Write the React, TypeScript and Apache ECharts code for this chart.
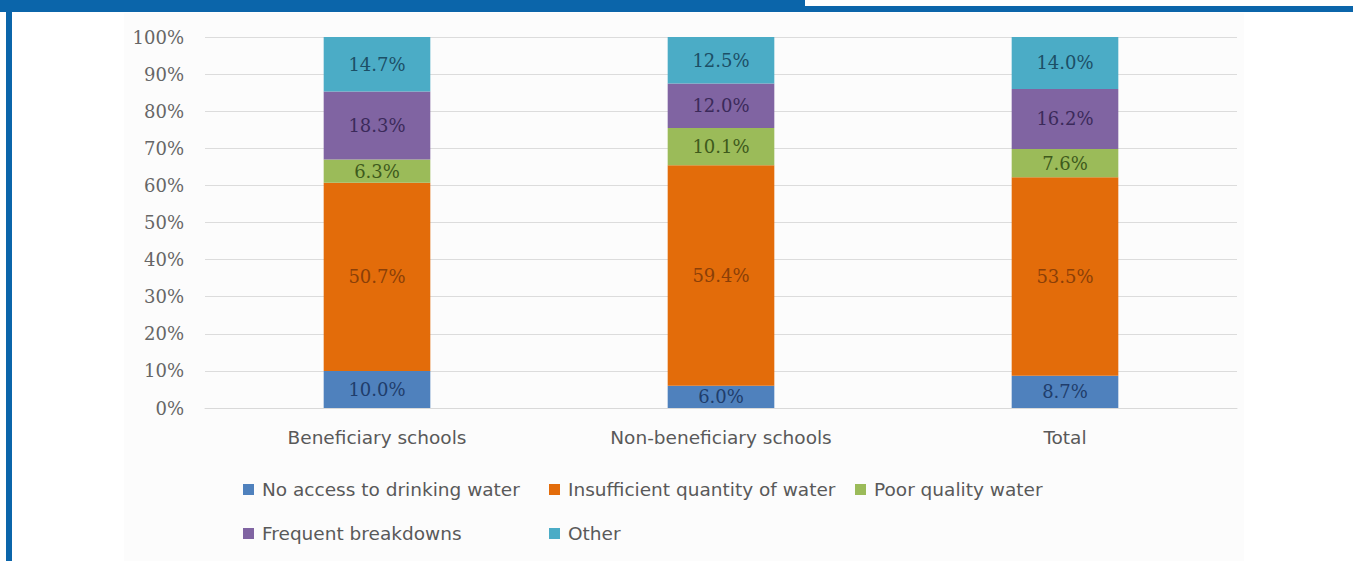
import React, { useEffect, useRef } from "react";
import * as echarts from "echarts";

const categories = ["Beneficiary schools", "Non-beneficiary schools", "Total"];
const seriesNames = [
  "No access to drinking water",
  "Insufficient quantity of water",
  "Poor quality water",
  "Frequent breakdowns",
  "Other",
];
const noAccess = [10.0, 6.0, 8.7];
const insufficient = [50.7, 59.4, 53.5];
const poorQuality = [6.3, 10.1, 7.6];
const breakdowns = [18.3, 12.0, 16.2];
const other = [14.7, 12.5, 14.0];
const yTicks = [0, 10, 20, 30, 40, 50, 60, 70, 80, 90, 100];

const seriesData = [noAccess, insufficient, poorQuality, breakdowns, other];
const colors = ["#4F81BD", "#E36C0A", "#9BBB59", "#8064A2", "#4BACC6"];
const labelColors = ["#1F3D6B", "#8A3F08", "#3E5A1C", "#3B2A5A", "#1C4F66"];
const legendPos = [
  { left: 243, top: 480 },
  { left: 549, top: 480 },
  { left: 855, top: 480 },
  { left: 243, top: 524 },
  { left: 549, top: 524 },
];

export default function App() {
  const ref = useRef<HTMLDivElement>(null);
  useEffect(() => {
    if (!ref.current) return;
    const chart = echarts.init(ref.current, null, { renderer: "svg" });
    chart.setOption({
      animation: false,
      backgroundColor: "#ffffff",
      graphic: [
        { type: "rect", shape: { x: 124, y: 13, width: 1120, height: 548 }, style: { fill: "#fcfcfc" }, z: -10 },
        { type: "rect", shape: { x: 0, y: 0, width: 805, height: 12 }, style: { fill: "#0B65AA" } },
        { type: "rect", shape: { x: 805, y: 6, width: 548, height: 6 }, style: { fill: "#0B65AA" } },
        { type: "rect", shape: { x: 6, y: 0, width: 6, height: 561 }, style: { fill: "#0B65AA" } },
      ],
      grid: { left: 205, right: 116, top: 37, bottom: 153, containLabel: false },
      xAxis: {
        type: "category",
        data: categories,
        axisLine: { show: true, lineStyle: { color: "#d9d9d9", width: 1 } },
        axisTick: { show: false },
        axisLabel: {
          color: "#595959",
          fontFamily: "DejaVu Sans",
          fontSize: 18.5,
          margin: 20,
        },
      },
      yAxis: {
        type: "value",
        min: 0,
        max: 100,
        interval: 10,
        axisLine: { show: false },
        axisTick: { show: false },
        splitLine: { lineStyle: { color: "#dcdcdc", width: 1 } },
        axisLabel: {
          color: "#666666",
          fontFamily: "DejaVu Serif",
          fontSize: 18,
          margin: 21,
          formatter: (v: number) => (yTicks.includes(v) ? v + "%" : ""),
        },
      },
      legend: seriesNames.map((n, i) => ({
        data: [n],
        left: legendPos[i].left,
        top: legendPos[i].top,
        icon: "rect",
        itemWidth: 11,
        itemHeight: 11,
        padding: 0,
        textStyle: { color: "#595959", fontFamily: "DejaVu Sans", fontSize: 18.5, padding: [0, 0, 0, 3] },
        selectedMode: false,
      })),
      series: seriesNames.map((n, i) => ({
        name: n,
        type: "bar",
        stack: "total",
        barWidth: "31%",
        data: seriesData[i],
        itemStyle: { color: colors[i] },
        label: {
          show: true,
          position: "inside",
          color: labelColors[i],
          fontFamily: "DejaVu Serif",
          fontSize: 18,
          formatter: (p: any) => p.value.toFixed(1) + "%",
        },
      })),
    });
    return () => chart.dispose();
  }, []);
  return (
    <div
      ref={ref}
      style={{ position: "fixed", left: 0, top: 0, width: 1353, height: 561 }}
    />
  );
}
